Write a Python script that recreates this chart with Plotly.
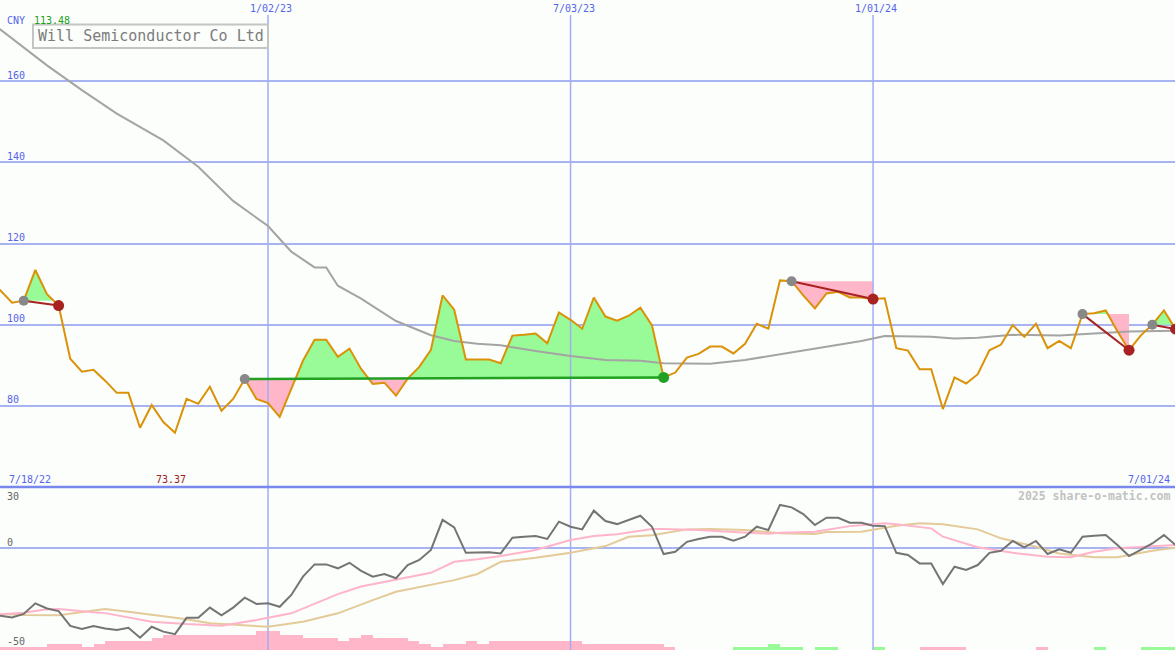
import numpy as np
import pandas as pd
import plotly.graph_objects as go

# ---------------- data ----------------
start_date = "2022-07-18"
price = [111.0, 108.4, 105.4, 105.9, 113.48, 107.5, 104.7, 91.6, 88.4, 88.9,
         86.2, 83.2, 83.2, 74.6, 80.2, 76.0, 73.37, 81.7, 80.5, 84.7,
         78.8, 81.7, 86.6, 81.7, 80.7, 77.3, 84.2, 91.1, 96.3, 96.3,
         92.1, 94.1, 89.1, 85.4, 85.7, 82.5, 86.7, 89.6, 93.8, 107.2,
         103.7, 91.4, 91.4, 91.4, 90.5, 97.3, 97.5, 97.8, 95.4, 103.0,
         101.2, 99.0, 106.7, 102.0, 101.0, 102.2, 104.2, 99.8, 87.0, 88.2,
         91.9, 92.8, 94.6, 94.6, 92.9, 95.3, 100.2, 99.0, 110.9, 110.7,
         107.2, 104.0, 107.7, 108.1, 106.7, 106.7, 106.3, 106.5, 94.2, 93.6,
         89.0, 89.0, 79.2, 87.0, 85.5, 87.8, 93.7, 95.1, 99.9, 97.0,
         100.2, 94.2, 96.0, 94.2, 102.6, 102.8, 103.5, 98.4, 93.7, 97.3,
         100.0, 103.5, 98.9]

ma_weeks = [0, 1, 5, 8, 11, 15, 18, 21, 24, 26, 28, 29, 30, 32, 34, 35, 38, 40, 42, 44,
            47, 50, 53, 56, 58, 62, 65, 69, 72, 75, 77, 81, 83, 85, 88, 92, 95, 98, 102]
ma_vals = [175.0, 172.7, 163.9, 157.8, 152.0, 145.4, 138.9, 130.5, 124.3, 118.0,
           114.1, 114.1, 109.6, 106.4, 102.7, 100.9, 97.4, 96.0, 95.3, 94.9,
           93.5, 92.3, 91.3, 91.1, 90.5, 90.4, 91.3, 93.2, 94.6, 96.0,
           97.2, 97.0, 96.6, 96.8, 97.5, 97.3, 97.8, 98.3, 98.5]

# signals: start week, end week, outcome
sig_start = [3, 22, 69, 94, 100]
sig_end = [6, 58, 76, 98, 102]
sig_up = [False, True, False, False, False]

osc = [-33.0, -33.2, -34.0, -32.3, -27.1, -29.6, -30.9, -38.2, -39.7, -38.2,
       -39.4, -40.2, -39.1, -44.0, -38.6, -41.0, -42.2, -34.2, -34.2, -29.2,
       -33.0, -29.2, -24.3, -27.4, -27.1, -28.8, -23.0, -14.0, -8.0, -8.0,
       -9.9, -7.2, -11.2, -14.0, -12.7, -14.8, -8.3, -5.8, -0.9, 13.9,
       10.2, -2.3, -2.1, -2.0, -2.6, 5.1, 5.6, 5.9, 4.5, 13.0,
       10.5, 9.2, 18.4, 13.3, 11.8, 13.8, 15.9, 10.5, -2.9, -1.8,
       3.1, 4.5, 5.6, 5.6, 3.6, 5.6, 10.5, 8.9, 21.2, 20.0,
       16.7, 11.3, 14.9, 14.9, 12.5, 12.5, 11.0, 10.8, -2.3, -3.4,
       -7.5, -7.5, -17.6, -9.1, -10.7, -8.3, -2.3, -1.3, 3.5, 0.4,
       3.5, -2.9, -0.6, -2.3, 5.6, 6.1, 6.4, 1.5, -3.9, -0.9,
       2.3, 6.4, 1.5]

pink_weeks = [1, 3, 5, 6, 9, 10, 14, 17, 20, 23, 26, 30, 32, 33, 35, 38, 40, 42, 44, 47,
              50, 52, 54, 57, 58, 61, 64, 67, 68, 71, 74, 77, 78, 81, 82, 85, 88, 91, 93, 95,
              97, 100, 102]
pink_vals = [-32.5, -31.7, -30.0, -29.9, -31.5, -31.9, -36.1, -37.3, -38.1, -35.3,
             -32.0, -22.6, -18.8, -17.7, -15.7, -12.1, -6.7, -5.5, -3.9, -0.9,
             4.0, 5.9, 6.8, 9.4, 9.4, 8.9, 7.9, 7.1, 7.5, 8.0,
             10.8, 12.2, 11.7, 9.7, 5.6, 0.4, -2.3, -4.2, -4.5, -1.8,
             -0.1, 0.7, 1.5]

tan_weeks = [1, 3, 6, 10, 12, 17, 19, 24, 27, 30, 33, 35, 40, 42, 44, 47, 50, 53, 55, 57,
             60, 62, 65, 68, 71, 72, 75, 78, 80, 82, 85, 87, 90, 92, 95, 97, 100, 102]
tan_vals = [-32.3, -32.8, -33.0, -29.9, -31.2, -34.9, -36.9, -38.6, -36.1, -32.0,
            -25.5, -21.4, -15.7, -12.7, -6.7, -4.7, -2.3, 1.0, 5.6, 6.3,
            9.2, 9.4, 8.9, 7.3, 6.9, 7.9, 8.0, 11.0, 12.2, 11.7,
            9.2, 4.8, 0.7, -2.6, -4.5, -4.5, -1.3, 0.2]

# weekly histogram levels (negative = pink, positive = green)
bars = [-1, -1, -1, -1, -1, -2, -2, -2, -1, -2,
        -3, -3, -3, -3, -4, -5, -5, -5, -5, -5,
        -5, -5, -5, -6, -6, -5, -5, -4, -4, -4,
        -3, -4, -5, -4, -4, -4, -3, -2, -1, -2,
        -2, -3, -2, -3, -3, -3, -3, -3, -3, -3,
        -3, -2, -2, -2, -2, -2, -2, -2, -1, 0,
        0, 0, 0, 0, 1, 1, 1, 2, 1, 1,
        0, 1, 1, 0, 0, 0, 1, 0, 0, 0,
        -1, -1, -1, -1, 0, 0, 0, 0, 0, 0,
        -1, 0, 0, 0, 0, 1, 0, 0, 0, 1,
        1, 1, 0]

grid_dates = ["2023-01-02", "2023-07-03", "2024-01-01"]
grid_labels = ["1/02/23", "7/03/23", "1/01/24"]
price_ticks = [80, 100, 120, 140, 160]
lower_ticks = [30, 0, -50]

title = "Will Semiconductor Co Ltd"
currency = "CNY"
first_label = "7/18/22"
last_label = "7/01/24"
watermark = "2025 share-o-matic.com"

# ---------------- helpers ----------------
base = pd.Timestamp(start_date)
dates = pd.date_range(start_date, periods=len(price), freq="7D")


def wk(t):
    return base + pd.to_timedelta(np.asarray(t, dtype=float) * 7, unit="D")


W, H = 1175, 650
LOWER_H = 163
BG = "#FBFEFB"
GRID = "#A8B4F2"
VGRID = "#A4ACF2"
BLUE_TXT = "#5564EC"
MONO = "DejaVu Sans Mono"
GREEN_FILL = "#98FB98"
PINK_FILL = "#FFB6C8"
DOWN = "#A82222"
UPC = "#22A022"

fig = go.Figure()

# ---- signal fills ----
for s, e in zip(sig_start, sig_end):
    L = price[s]
    ts, ps = [], []
    for i in range(s, e):
        p0, p1 = price[i], price[i + 1]
        ts.append(i)
        ps.append(p0)
        if (p0 - L) * (p1 - L) < 0:
            ts.append(i + (L - p0) / (p1 - p0))
            ps.append(L)
    ts.append(e)
    ps.append(price[e])
    up = [max(p, L) for p in ps]
    dn = [min(p, L) for p in ps]
    for yy, col in ((up, GREEN_FILL), (dn, PINK_FILL)):
        fig.add_trace(go.Scatter(
            x=list(wk(ts + [e, s])), y=yy + [L, L], fill="toself",
            fillcolor=col, line=dict(width=0), mode="lines",
            hoverinfo="skip", yaxis="y"))

# ---- vertical grid lines (price panel) ----
for d in grid_dates:
    fig.add_trace(go.Scatter(x=[d, d], y=[60, 176.3], mode="lines",
                             line=dict(color=VGRID, width=1.5),
                             hoverinfo="skip", yaxis="y"))

# ---- long moving average ----
fig.add_trace(go.Scatter(x=list(wk(ma_weeks)), y=ma_vals, mode="lines",
                         line=dict(color="#A4A4A4", width=2), yaxis="y"))

# ---- price ----
fig.add_trace(go.Scatter(x=dates, y=price, mode="lines",
                         line=dict(color="#DA9208", width=2), yaxis="y"))

# ---- trend lines and dots ----
for s, e, u in zip(sig_start, sig_end, sig_up):
    col = UPC if u else DOWN
    fig.add_trace(go.Scatter(x=[dates[s], dates[e]], y=[price[s], price[e]],
                             mode="lines", line=dict(color=col, width=2.5 if u else 2),
                             yaxis="y"))
for s, e, u in zip(sig_start, sig_end, sig_up):
    fig.add_trace(go.Scatter(x=[dates[s]], y=[price[s]], mode="markers",
                             marker=dict(color="#888888", size=10), yaxis="y",
                             cliponaxis=True))
    fig.add_trace(go.Scatter(x=[dates[e]], y=[price[e]], mode="markers",
                             marker=dict(color=UPC if u else DOWN, size=11), yaxis="y",
                             cliponaxis=True))

# ---- lower panel: vertical grid and histogram (y2) ----
for d in grid_dates:
    fig.add_trace(go.Scatter(x=[d, d], y=[0, 60], mode="lines",
                             line=dict(color=VGRID, width=1.5),
                             hoverinfo="skip", yaxis="y2"))
fig.add_trace(go.Bar(
    x=list(dates + pd.Timedelta(days=3.5)), y=[abs(b) for b in bars],
    width=7 * 86400000,
    marker=dict(color=[GREEN_FILL if b > 0 else PINK_FILL for b in bars],
                line=dict(width=0)),
    yaxis="y2"))

# ---- lower panel lines (y3) ----
fig.add_trace(go.Scatter(x=list(wk(tan_weeks)), y=tan_vals, mode="lines",
                         line=dict(color="#E4CA98", width=2), yaxis="y3"))
fig.add_trace(go.Scatter(x=list(wk(pink_weeks)), y=pink_vals, mode="lines",
                         line=dict(color="#FFB4CA", width=2), yaxis="y3"))
fig.add_trace(go.Scatter(x=dates, y=osc, mode="lines",
                         line=dict(color="#747474", width=2), yaxis="y3"))

# ---- layout ----
dom_split = LOWER_H / H
fig.update_layout(
    width=W, height=H, margin=dict(l=0, r=0, t=0, b=0),
    paper_bgcolor=BG, plot_bgcolor=BG, showlegend=False,
    bargap=0,
    xaxis=dict(type="date", range=["2022-07-24 17:45", "2024-06-30 15:40"],
               showgrid=False, zeroline=False, showticklabels=False,
               showline=False, fixedrange=True),
    yaxis=dict(domain=[dom_split, 1], range=[60, 180], tickvals=price_ticks,
               showgrid=True, gridcolor=GRID, gridwidth=2, zeroline=False,
               showticklabels=False, showline=False),
    yaxis2=dict(domain=[0, dom_split], range=[0, 52.6], showgrid=False,
                zeroline=False, showticklabels=False, showline=False),
    yaxis3=dict(overlaying="y2", range=[-50, 30], showgrid=False,
                zeroline=False, showticklabels=False, showline=False),
    hovermode=False,
)

# zero line of lower panel
fig.add_shape(type="line", xref="paper", x0=0, x1=1, yref="y3", y0=0, y1=0,
              line=dict(color=GRID, width=2), layer="below")
# separator between panels
fig.add_shape(type="line", xref="paper", x0=0, x1=1, yref="paper",
              y0=dom_split, y1=dom_split, line=dict(color="#7888EC", width=2.5),
              layer="above")
# title box
fig.add_shape(type="rect", xref="paper", yref="paper",
              x0=33 / W, x1=268 / W, y0=1 - 48 / H, y1=1 - 24.5 / H,
              line=dict(color="#C4C4C4", width=2), fillcolor=BG, layer="above")


def ann(text, px, py, color, size=10, anchor="left", bold=False):
    fig.add_annotation(text=("<b>%s</b>" % text) if bold else text,
                       x=px / W, y=1 - py / H, xref="paper", yref="paper",
                       xanchor=anchor, yanchor="middle", showarrow=False,
                       font=dict(family=MONO, size=size, color=color))


ann(title, 150.5, 36.5, "#7C7C7C", size=15, anchor="center")
ann(currency, 5, 20.5, BLUE_TXT)
ann("%.2f" % max(price), 32, 20.5, "#22A022")
for t in price_ticks:
    py = (180 - t) / 120 * (H - LOWER_H)
    ann(str(t), 5, py - 6, BLUE_TXT)
for d, lab in zip(grid_dates, grid_labels):
    fig.add_annotation(text=lab, x=d, xref="x", y=1 - 8.5 / H, yref="paper",
                       xanchor="center", yanchor="middle", xshift=3, showarrow=False,
                       font=dict(family=MONO, size=10, color=BLUE_TXT))
ann(first_label, 7, 479, BLUE_TXT)
ann("%.2f" % min(price), 154, 479, "#A02020")
ann(last_label, 1172, 479, BLUE_TXT, anchor="right")
ann(watermark, 1172, 496, "#C2C2C2", size=11.5, anchor="right", bold=True)
ann(str(lower_ticks[0]), 5, 496, "#666666")
ann(str(lower_ticks[1]), 5, 542.5, "#666666")
ann(str(lower_ticks[2]), 5, 641.5, "#666666")

fig.write_html("out.html", config={"staticPlot": True},
               post_script="document.body.style.margin='0px';"
                           "document.body.style.overflow='hidden';")
